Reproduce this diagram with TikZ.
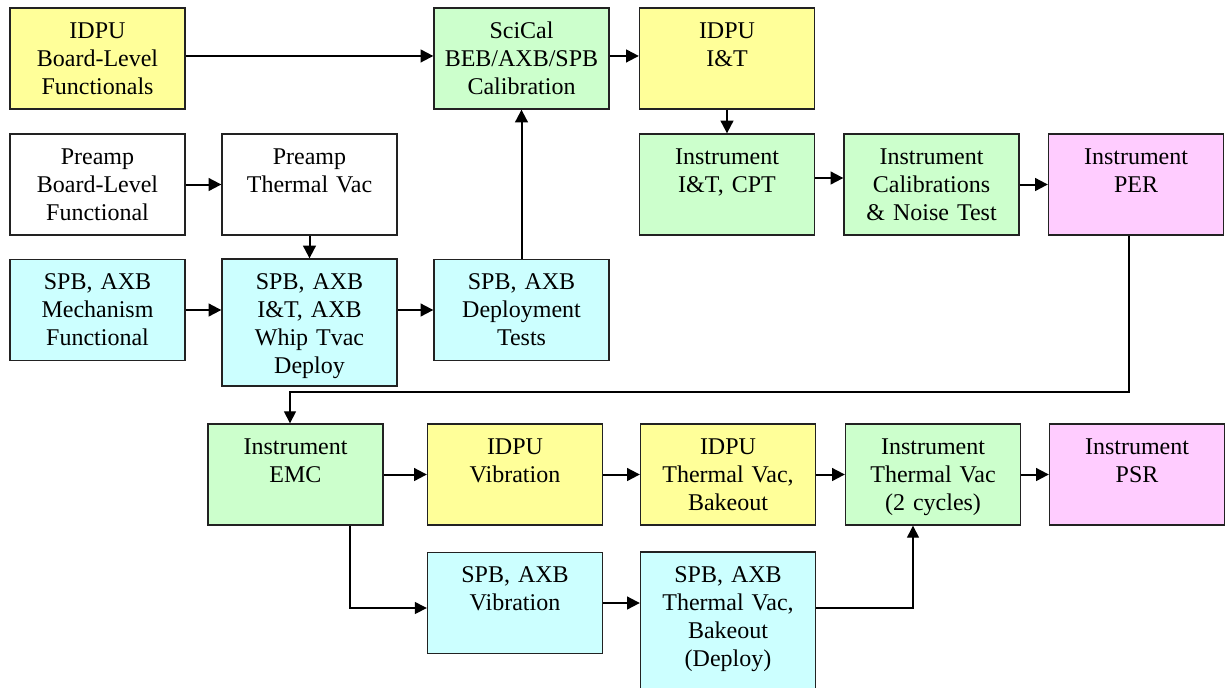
\documentclass[tikz,border=0pt]{standalone}
\usepackage{fontspec}
\setmainfont{Liberation Serif}
\usetikzlibrary{arrows.meta}
\definecolor{yel}{HTML}{FFFF99}
\definecolor{grn}{HTML}{CCFFCC}
\definecolor{cyn}{HTML}{CCFFFF}
\definecolor{pnk}{HTML}{FFCCFF}
\definecolor{edge}{HTML}{222222}
\tikzset{
  box/.style={draw=edge, line width=1pt, inner sep=0pt, minimum width=131.25pt, minimum height=75.75pt},
  tall/.style={minimum height=95.25pt},
  txt/.style={text width=128pt, align=center, inner sep=0pt, anchor=base, font=\fontsize{18}{21}\selectfont},
  arr/.style={line width=1.5pt, -{Triangle[length=9.5pt, width=9.5pt]}},
  conn/.style={line width=0.9pt, -{Triangle[length=9pt, width=9pt]}}
}
\begin{document}
\begin{tikzpicture}[x=0.75pt, y=-0.75pt]
\useasboundingbox (0,0) rectangle (1225,687);
% boxes
\node[box, fill=yel] (idpubl) at (97.5,58.5) {};
\node[box, fill=grn] (scical) at (521.5,58.5) {};
\node[box, fill=yel] (idpuit) at (727,58.5) {};
\node[box, fill=white] (prebl) at (97.5,184.5) {};
\node[box, fill=white] (pretv) at (309.5,184.5) {};
\node[box, fill=cyn] (spbmech) at (97.5,310) {};
\node[box, tall, fill=cyn] (spbit) at (309.5,322.5) {};
\node[box, fill=cyn] (spbdep) at (521.5,310) {};
\node[box, fill=grn] (instit) at (727,184.5) {};
\node[box, fill=grn] (calib) at (931.5,184.5) {};
\node[box, fill=pnk] (per) at (1136,184.5) {};
\node[box, fill=grn] (emc) at (295.5,474.5) {};
\node[box, fill=yel] (idpuvib) at (515,474.5) {};
\node[box, fill=yel] (idputv) at (728,474.5) {};
\node[box, fill=grn] (insttv) at (933,474.5) {};
\node[box, fill=pnk] (psr) at (1137,474.5) {};
\node[box, fill=cyn] (spbvib) at (515,603) {};
\node[box, minimum height=111pt, fill=cyn] (spbtv) at (728,626) {};
% texts
\node[txt] (t-idpubl) at (97.5,38) {IDPU\\Board-Level\\Functionals};
\node[txt] (t-scical) at (521.5,38) {SciCal\\BEB/AXB/SPB\\Calibration};
\node[txt] (t-idpuit) at (727,38) {IDPU\\I\&T};
\node[txt] (t-prebl) at (97.5,164) {Preamp\\Board-Level\\Functional};
\node[txt] (t-pretv) at (309.5,164) {Preamp\\Thermal Vac};
\node[txt] (t-spbmech) at (97.5,289) {SPB, AXB\\Mechanism\\Functional};
\node[txt] (t-spbit) at (309.5,289) {SPB, AXB\\I\&T, AXB\\Whip Tvac\\Deploy};
\node[txt] (t-spbdep) at (521.5,289) {SPB, AXB\\Deployment\\Tests};
\node[txt] (t-instit) at (727,164) {Instrument\\I\&T, CPT};
\node[txt] (t-calib) at (931.5,164) {Instrument\\Calibrations\\\& Noise Test};
\node[txt] (t-per) at (1136,164) {Instrument\\PER};
\node[txt] (t-emc) at (295.5,454) {Instrument\\EMC};
\node[txt] (t-idpuvib) at (515,454) {IDPU\\Vibration};
\node[txt] (t-idputv) at (728,454) {IDPU\\Thermal Vac,\\Bakeout};
\node[txt] (t-insttv) at (933,454) {Instrument\\Thermal Vac\\(2 cycles)};
\node[txt] (t-psr) at (1137,454) {Instrument\\PSR};
\node[txt] (t-spbvib) at (515,582) {SPB, AXB\\Vibration};
\node[txt] (t-spbtv) at (728,582) {SPB, AXB\\Thermal Vac,\\Bakeout\\(Deploy)};
% helper coordinates
\coordinate (perdn) at (1129,392);
\coordinate (emcin) at (290,392);
\coordinate (emcdn) at (350,608);
\coordinate (tvr) at (913,608);
\coordinate (cptrow) at (0,178);
% connectors
\draw[arr] ([yshift=1.9pt]idpubl.east) -- ([yshift=1.9pt]scical.west);
\draw[arr] ([yshift=1.9pt]scical.east) -- ([yshift=1.9pt]idpuit.west);
\draw[arr] (prebl.east) -- (pretv.west);
\draw[arr] (pretv.south) -- (spbit.north);
\draw[arr] (spbmech.east) -- (spbmech.east -| spbit.west);
\draw[arr] (spbdep.west -| spbit.east) -- (spbdep.west);
\draw[arr] (spbdep.north) -- (scical.south);
\draw[arr] (idpuit.south) -- (instit.north);
\draw[arr] (instit.east |- cptrow) -- (calib.west |- cptrow);
\draw[arr] (calib.east) -- (per.west);
\draw[conn] (per.south -| perdn) -- (perdn) -- (emcin) -- (emc.north -| emcin);
\draw[arr] (emc.east) -- (idpuvib.west);
\draw[arr] (idpuvib.east) -- (idputv.west);
\draw[arr] (idputv.east) -- (insttv.west);
\draw[arr] (insttv.east) -- (psr.west);
\draw[conn] (emc.south -| emcdn) -- (emcdn) -- (spbvib.west |- emcdn);
\draw[arr] (spbvib.east) -- (spbvib.east -| spbtv.west);
\draw[conn] (spbtv.east |- tvr) -- (tvr) -- (insttv.south -| tvr);
\end{tikzpicture}
\end{document}
